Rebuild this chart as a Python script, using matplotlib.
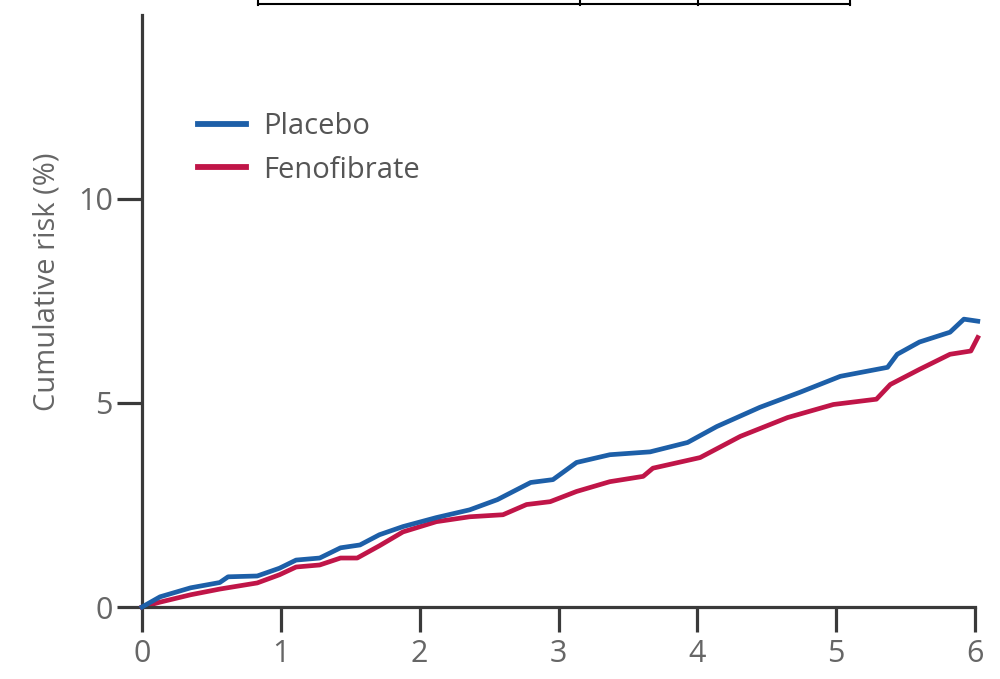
import matplotlib
matplotlib.use("Agg")
import matplotlib.pyplot as plt
from matplotlib.lines import Line2D

plt.rcParams['font.family'] = ['Open Sans', 'DejaVu Sans']

# Data
placebo_t = [0, 0.13, 0.35, 0.56, 0.62, 0.83, 0.99, 1.11, 1.28, 1.43, 1.57, 1.71,
             1.88, 2.12, 2.36, 2.56, 2.8, 2.96, 3.13, 3.37, 3.66, 3.93, 4.14, 4.45,
             4.74, 5.03, 5.37, 5.44, 5.6, 5.82, 5.92, 6.02]
placebo_v = [0, 0.25, 0.47, 0.6, 0.74, 0.76, 0.95, 1.15, 1.2, 1.45, 1.52, 1.77,
             1.97, 2.19, 2.38, 2.63, 3.05, 3.12, 3.54, 3.73, 3.8, 4.03, 4.42, 4.89,
             5.26, 5.65, 5.87, 6.19, 6.49, 6.73, 7.05, 7.0]
feno_t = [0, 0.13, 0.35, 0.56, 0.83, 0.99, 1.11, 1.28, 1.43, 1.55, 1.71, 1.88,
          2.12, 2.36, 2.6, 2.77, 2.94, 3.13, 3.37, 3.61, 3.68, 4.02, 4.31, 4.65,
          4.98, 5.29, 5.39, 5.6, 5.82, 5.97, 6.02]
feno_v = [0, 0.12, 0.3, 0.44, 0.59, 0.79, 0.98, 1.03, 1.2, 1.2, 1.5, 1.84,
          2.09, 2.21, 2.26, 2.51, 2.58, 2.83, 3.07, 3.2, 3.4, 3.66, 4.18, 4.64,
          4.96, 5.09, 5.45, 5.82, 6.19, 6.27, 6.6]
series_names = ["Placebo", "Fenofibrate"]
x_ticks = [0, 1, 2, 3, 4, 5, 6]
y_ticks = [0, 5, 10]

blue = "#1d5fa8"
red = "#c01548"
grey_text = "#666666"
spine_col = "#3a3a3a"

fig = plt.figure(figsize=(10, 6.79), dpi=100)
ax = fig.add_axes([0.142, 0.106, 0.833, 0.872])

ax.plot(placebo_t, placebo_v, color=blue, lw=3.4, clip_on=False, zorder=3,
        label=series_names[0], solid_joinstyle='round')
ax.plot(feno_t, feno_v, color=red, lw=3.4, clip_on=False, zorder=2,
        label=series_names[1], solid_joinstyle='round')

ax.set_xlim(0, 6)
ax.set_ylim(0, 14.5)
ax.set_xticks(x_ticks)
ax.set_yticks(y_ticks)
for s in ['top', 'right']:
    ax.spines[s].set_visible(False)
for s in ['left', 'bottom']:
    ax.spines[s].set_linewidth(2.3)
    ax.spines[s].set_color(spine_col)
ax.tick_params(axis='both', direction='out', length=18, width=2.3, color=spine_col,
               labelsize=22, labelcolor=grey_text)
ax.tick_params(axis='x', pad=5)
ax.tick_params(axis='y', pad=3)

ax.set_ylabel("Cumulative risk (%)", fontsize=21, color=grey_text)
ax.yaxis.set_label_coords(-0.097, 0.55)

leg = ax.legend(loc='upper left', bbox_to_anchor=(0.067, 0.836), frameon=False,
                fontsize=21, handlelength=1.65, handletextpad=0.58, labelspacing=0.5,
                borderaxespad=0, borderpad=0)
for t in leg.get_texts():
    t.set_color("#555555")
for h in leg.get_lines():
    h.set_linewidth(4.2)

# cropped bracket line at the top of the image
fig.add_artist(Line2D([0.258, 0.850], [0.994, 0.994], color='black', lw=1.5,
                      transform=fig.transFigure))
for xb in [0.258, 0.580, 0.698, 0.850]:
    fig.add_artist(Line2D([xb, xb], [0.992, 1.0], color='black', lw=1.5,
                          transform=fig.transFigure))

fig.savefig("out.png", dpi=100)
